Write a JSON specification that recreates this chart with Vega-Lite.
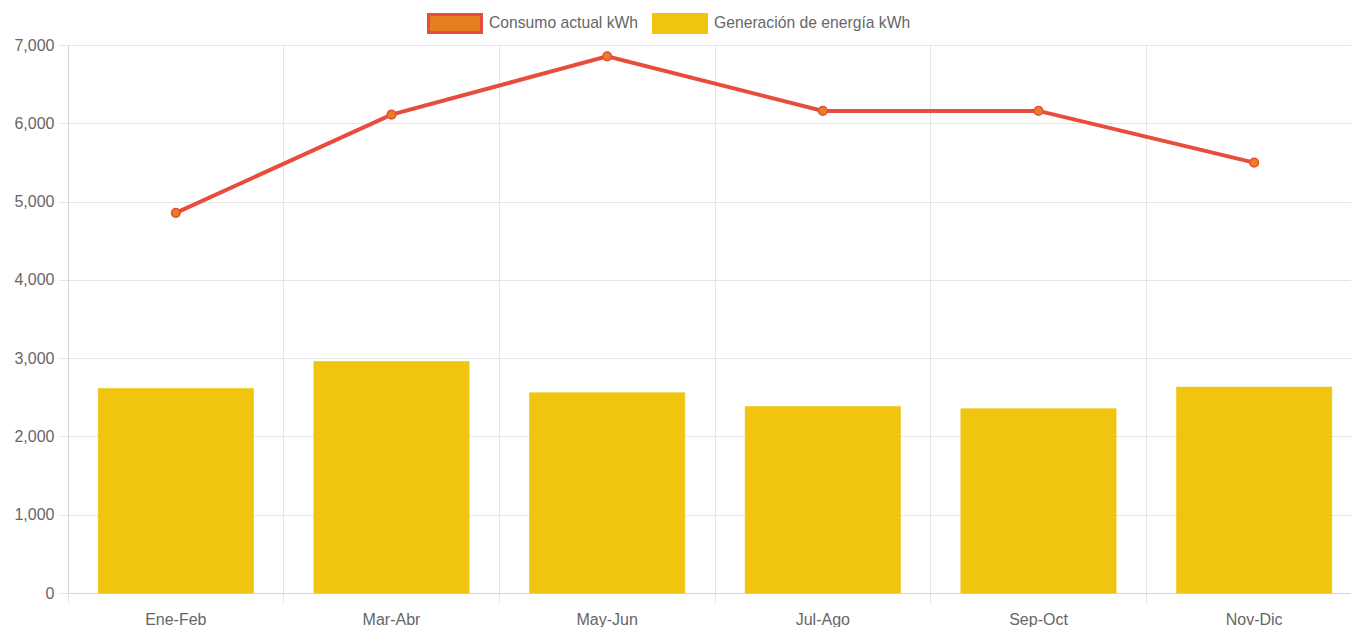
{
  "$schema": "https://vega.github.io/schema/vega-lite/v6.json",
  "width": 1294,
  "height": 548,
  "autosize": {"type": "none"},
  "padding": {"left": 68, "top": 45, "right": 0, "bottom": 34},
  "background": "white",
  "config": {
    "view": {"stroke": null},
    "font": "Liberation Sans",
    "axis": {"labelFont": "Liberation Sans", "labelFontSize": 16, "labelColor": "#666666", "gridColor": "#e6e6e6", "tickColor": "#e6e6e6", "tickSize": 10, "domainColor": "#d4d4d4", "title": null},
    "legend": {
      "orient": "none",
      "legendX": 359,
      "legendY": -50,
      "direction": "horizontal",
      "padding": 0,
      "symbolType": "M-1,-0.34H1V0.34H-1Z",
      "symbolSize": 2809,
      "symbolOpacity": 1,
      "symbolStrokeWidth": 3,
      "labelFont": "Liberation Sans",
      "labelFontSize": 15.7,
      "labelColor": "#666666",
      "labelLimit": 400,
      "labelOffset": 6,
      "columnPadding": 8
    }
  },
  "data": {
    "values": [
      {"periodo": "Ene-Feb", "consumo": 4856, "generacion": 2613},
      {"periodo": "Mar-Abr", "consumo": 6111, "generacion": 2958},
      {"periodo": "May-Jun", "consumo": 6855, "generacion": 2558},
      {"periodo": "Jul-Ago", "consumo": 6158, "generacion": 2383},
      {"periodo": "Sep-Oct", "consumo": 6158, "generacion": 2354},
      {"periodo": "Nov-Dic", "consumo": 5497, "generacion": 2630}
    ]
  },
  "encoding": {
    "x": {
      "field": "periodo",
      "type": "nominal",
      "sort": null,
      "scale": {"paddingInner": 0.28, "paddingOuter": 0.14},
      "axis": {"title": null, "labelAngle": 0, "bandPosition": -0.19444, "grid": true, "labelPadding": 8}
    }
  },
  "layer": [
    {
      "mark": {"type": "bar", "strokeWidth": 0.6},
      "encoding": {
        "y": {
          "field": "generacion",
          "type": "quantitative",
          "scale": {"domain": [0, 7000], "nice": false},
          "axis": {"title": null, "values": [0, 1000, 2000, 3000, 4000, 5000, 6000, 7000], "format": ",.0f", "labelPadding": 4, "grid": true}
        },
        "color": {
          "datum": "Generación de energía kWh",
          "scale": {"domain": ["Consumo actual kWh", "Generación de energía kWh"], "range": ["#e67e22", "#f1c40f"]},
          "legend": {"title": null}
        },
        "stroke": {
          "datum": "Generación de energía kWh",
          "scale": {"domain": ["Consumo actual kWh", "Generación de energía kWh"], "range": ["#e74c3c", "#eec411"]},
          "legend": {"title": null}
        }
      }
    },
    {
      "mark": {"type": "line", "color": "#e74c3c", "strokeWidth": 4},
      "encoding": {
        "y": {"field": "consumo", "type": "quantitative"}
      }
    },
    {
      "mark": {"type": "point", "filled": true, "size": 75, "strokeWidth": 1.5, "opacity": 1},
      "encoding": {
        "y": {"field": "consumo", "type": "quantitative"},
        "color": {"datum": "Consumo actual kWh", "legend": {"title": null}},
        "stroke": {"datum": "Consumo actual kWh", "legend": {"title": null}}
      }
    }
  ]
}
